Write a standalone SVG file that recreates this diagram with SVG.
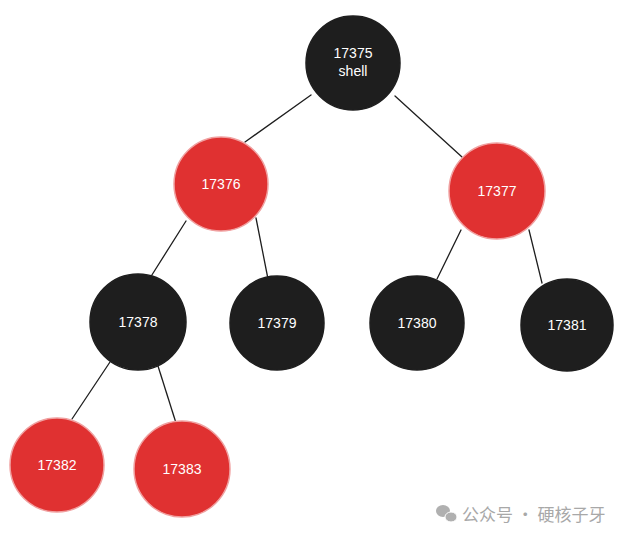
<svg xmlns="http://www.w3.org/2000/svg" width="627" height="539" viewBox="0 0 627 539">
<style>
.b{fill:#1e1e1e;stroke:#1e1e1e;stroke-width:1.5}
.r{fill:#e03131;stroke:#f0a0a0;stroke-width:1.5}
.t{fill:#ffffff;font-family:"Liberation Sans",sans-serif;font-size:14px;text-anchor:middle}
.e{stroke:#1e1e1e;stroke-width:1.3;fill:none;stroke-linecap:round}
.w{fill:#a8a8a8;font-family:"Noto Sans CJK SC",sans-serif;font-size:17px}
</style>
<rect width="627" height="539" fill="#ffffff"/>
<g id="connectors">
<line class="e" x1="311" y1="95" x2="245" y2="142"/>
<line class="e" x1="395" y1="96" x2="462" y2="157"/>
<line class="e" x1="186" y1="221" x2="150" y2="278"/>
<line class="e" x1="256" y1="218" x2="268" y2="279"/>
<line class="e" x1="461" y1="230" x2="437" y2="279"/>
<line class="e" x1="529" y1="230" x2="542" y2="283"/>
<line class="e" x1="110" y1="362" x2="72" y2="419"/>
<line class="e" x1="158" y1="366" x2="176" y2="423"/>
</g>
<g id="n17375"><circle class="b" cx="353" cy="63" r="47"/><text class="t" x="353" y="58">17375</text><text class="t" x="353" y="76">shell</text></g>
<g id="n17376"><circle class="r" cx="221" cy="184" r="47"/><text class="t" x="221" y="189">17376</text></g>
<g id="n17377"><circle class="r" cx="497" cy="191" r="48"/><text class="t" x="497" y="196">17377</text></g>
<g id="n17378"><circle class="b" cx="138" cy="322" r="48"/><text class="t" x="138" y="327">17378</text></g>
<g id="n17379"><circle class="b" cx="277" cy="323" r="47"/><text class="t" x="277" y="328">17379</text></g>
<g id="n17380"><circle class="b" cx="417" cy="323" r="47"/><text class="t" x="417" y="328">17380</text></g>
<g id="n17381"><circle class="b" cx="567" cy="325" r="46"/><text class="t" x="567" y="330">17381</text></g>
<g id="n17382"><circle class="r" cx="57" cy="465" r="47"/><text class="t" x="57" y="470">17382</text></g>
<g id="n17383"><circle class="r" cx="182" cy="469" r="48"/><text class="t" x="182" y="474">17383</text></g>
<g id="watermark">
<ellipse cx="443" cy="511" rx="7" ry="6" fill="#b0b0b0"/>
<ellipse cx="451" cy="517" rx="6" ry="5" fill="#b0b0b0" stroke="#ffffff" stroke-width="1"/>
<text class="w" x="462" y="521">公众号 · 硬核子牙</text>
</g>
</svg>
